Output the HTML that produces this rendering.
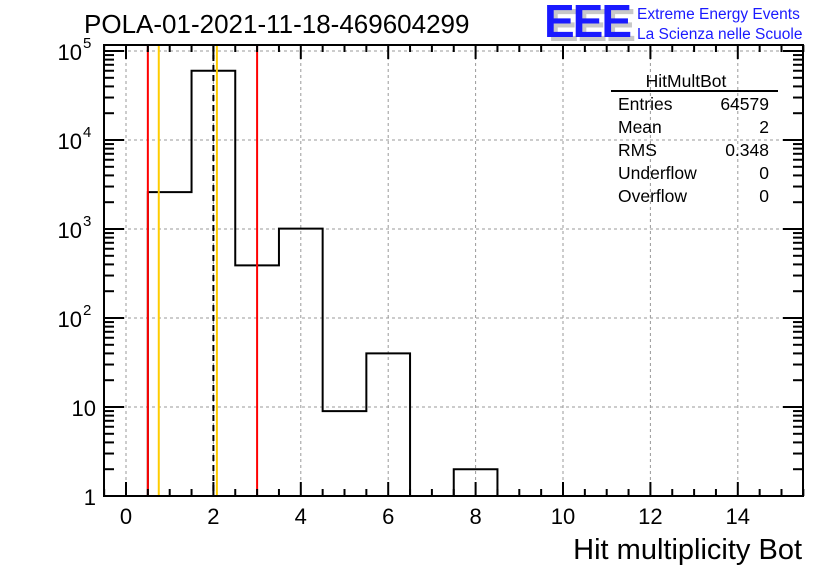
<!DOCTYPE html>
<html><head><meta charset="utf-8"><style>
body{margin:0;background:#fff;width:836px;height:572px;overflow:hidden;font-family:"Liberation Sans",sans-serif}
</style></head><body>
<svg id="c" width="836" height="572" xmlns="http://www.w3.org/2000/svg" font-family="Liberation Sans, sans-serif">
<text x="84" y="33" font-size="26">POLA-01-2021-11-18-469604299</text>
<g>
<text x="548" y="41" font-size="46" font-weight="bold" fill="#c8c8c8" letter-spacing="-2">EEE</text>
<text x="544" y="37" font-size="46" font-weight="bold" fill="#1a1aff" letter-spacing="-2">EEE</text>
<text x="637" y="19" font-size="15.5" fill="#1a1aff">Extreme Energy Events</text>
<text x="637" y="39" font-size="15.5" fill="#1a1aff">La Scienza nelle Scuole</text>
</g>
<g id="grid"></g><g id="marks"></g><g id="axes"></g>
<g font-size="17.5">
<text x="686" y="87" text-anchor="middle">HitMultBot</text>
<line x1="611" y1="91" x2="778" y2="91" stroke="#000" stroke-width="2"/>
<text x="618" y="110">Entries</text><text x="769" y="110" text-anchor="end">64579</text>
<text x="618" y="133">Mean</text><text x="769" y="133" text-anchor="end">2</text>
<text x="618" y="156">RMS</text><text x="769" y="156" text-anchor="end">0.348</text>
<text x="618" y="179">Underflow</text><text x="769" y="179" text-anchor="end">0</text>
<text x="618" y="202">Overflow</text><text x="769" y="202" text-anchor="end">0</text>
</g>
<text x="802" y="559" font-size="29" text-anchor="end">Hit multiplicity Bot</text>
</svg>
<script>
const binCenters=[0,1,2,3,4,5,6,7,8,9,10,11,12,13,14,15];
const binCounts=[0,2600,60000,390,1010,9,40,0,2,0,0,0,0,0,0,0];
const xTickLabels=[0,2,4,6,8,10,12,14];
const yTickValues=[1,10,100,1000,10000,100000];
const yTickBase=["1","10","10","10","10","10"];
const yTickExp=["","","2","3","4","5"];
const redLines=[0.5,3.0];
const orangeLines=[0.75,2.08];
const meanLine=[2.0];
const L=104,R=803,T=45,B=496;
const xs=v=>126+v*43.7;
const ys=v=>B-Math.log10(v)*89;
const NS="http://www.w3.org/2000/svg";
function mk(p,t,a){const e=document.createElementNS(NS,t);for(const k in a)e.setAttribute(k,a[k]);(typeof p==='string'?document.getElementById(p):p).appendChild(e);return e;}
xTickLabels.forEach(v=>{const g=mk('grid','line',{x1:xs(v),x2:xs(v),y1:T,y2:B,stroke:'#999','stroke-dasharray':'3,3'});

});
yTickValues.forEach(v=>{const g=mk('grid','line',{x1:L,x2:R,y1:ys(v),y2:ys(v),stroke:'#999','stroke-dasharray':'3,3'});

});
let d='';let started=false;
binCenters.forEach((c,i)=>{const n=binCounts[i];const y=n>0?ys(n):B;const x0=xs(c-0.5),x1=xs(c+0.5);
if(!started){d+=`M${x0},${B}`;started=true;}d+=` L${x0},${y} L${x1},${y}`;});
d+=` L${xs(15.5)},${B}`;
const h=mk('marks','path',{d:d,fill:'none',stroke:'#000','stroke-width':2});


redLines.forEach(v=>{const l=mk('marks','line',{x1:xs(v),x2:xs(v),y1:T,y2:B,stroke:'#ff0000','stroke-width':2});

});
orangeLines.forEach(v=>{const l=mk('marks','line',{x1:xs(v),x2:xs(v),y1:T,y2:B,stroke:'#ffcc00','stroke-width':2});

});
meanLine.forEach(v=>{const l=mk('marks','line',{x1:xs(v),x2:xs(v),y1:T,y2:B,stroke:'#000','stroke-width':2,'stroke-dasharray':'6,4'});

});
const f=mk('axes','rect',{x:L,y:T,width:R-L,height:B-T,fill:'none',stroke:'#000','stroke-width':2});


for(let v=-0.5;v<=15.5;v+=0.5){const major=(Math.abs(v%2)<1e-9);const len=major?14:7;
mk('axes','line',{x1:xs(v),x2:xs(v),y1:B,y2:B-len,stroke:'#000','stroke-width':2});
mk('axes','line',{x1:xs(v),x2:xs(v),y1:T,y2:T+len,stroke:'#000','stroke-width':2});}
xTickLabels.forEach(v=>{const t=mk('axes','text',{x:xs(v),y:B+28,'font-size':22,'text-anchor':'middle'});t.textContent=v;

});
yTickValues.forEach((v,i)=>{mk('axes','line',{x1:L,x2:L+20,y1:ys(v),y2:ys(v),stroke:'#000','stroke-width':2});
mk('axes','line',{x1:R,x2:R-20,y1:ys(v),y2:ys(v),stroke:'#000','stroke-width':2});
if(v<100000)for(let k=2;k<10;k++){const y=ys(v*k);mk('axes','line',{x1:L,x2:L+10,y1:y,y2:y,stroke:'#000','stroke-width':2});mk('axes','line',{x1:R,x2:R-10,y1:y,y2:y,stroke:'#000','stroke-width':2});}
const hasExp=yTickExp[i]!=='';
const t=mk('axes','text',{x:hasExp?L-22:L-8,y:ys(v)+9,'font-size':22,'text-anchor':'end'});t.textContent=yTickBase[i];


if(hasExp){const e=mk('axes','text',{x:L-21,y:ys(v)-3,'font-size':15});e.textContent=yTickExp[i];

}});
</script>
</body></html>
